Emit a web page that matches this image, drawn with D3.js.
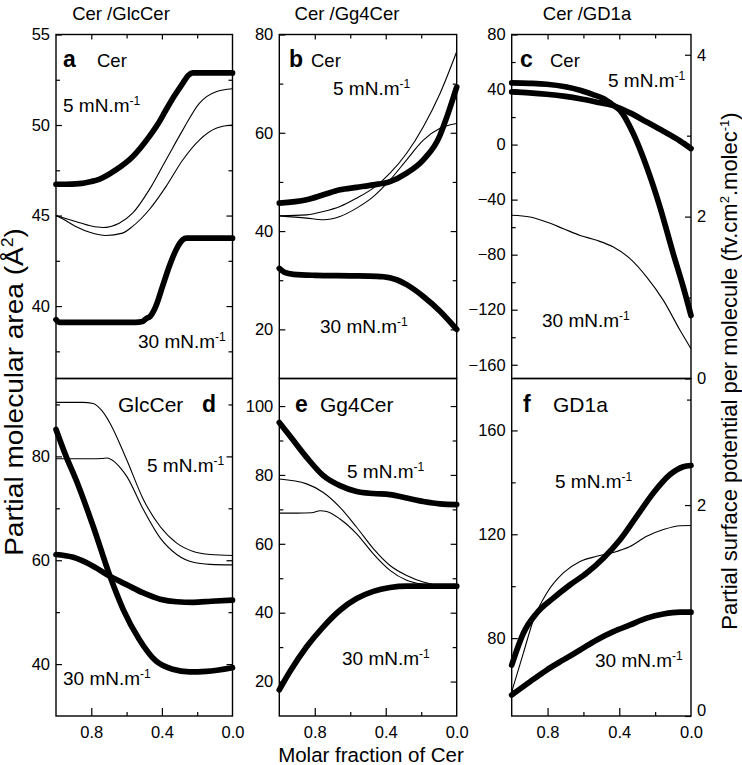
<!DOCTYPE html>
<html><head><meta charset="utf-8">
<script src="https://cdn.jsdelivr.net/npm/d3@7/dist/d3.min.js"></script>
<style>
body{margin:0;background:#fff}
svg{display:block}
text{font-family:"Liberation Sans",Arial,Helvetica,sans-serif;fill:#000}
</style>
</head><body>
<svg id="chart" width="742" height="765"></svg>
<script>
// ---------- DATA (x = molar fraction of Cer, y = value) ----------
const columnTitles = ["Cer /GlcCer", "Cer /Gg4Cer", "Cer /GD1a"];
const xMajorTicks = [0.8, 0.4, 0.0];
const xMinorTicks = [0.6, 0.2];

// panel a : Cer in Cer/GlcCer
const aThick5  = [[1.0,46.73],[0.95,46.73],[0.869,46.76],[0.80,46.88],[0.756,47.0],[0.661,47.52],[0.566,48.25],[0.472,49.36],[0.42,50.1],[0.377,50.83],[0.33,51.6],[0.282,52.3],[0.25,52.75],[0.225,52.88],[0.1,52.88],[0.0,52.88]];
const aThinU   = [[1.0,45.0],[0.95,44.85],[0.888,44.67],[0.80,44.42],[0.737,44.34],[0.642,44.58],[0.566,45.13],[0.472,46.42],[0.377,48.07],[0.282,49.72],[0.188,51.2],[0.093,51.84],[0.0,52.0]];
const aThinL   = [[1.0,45.0],[0.95,44.75],[0.888,44.4],[0.80,44.05],[0.718,43.9],[0.623,44.03],[0.566,44.4],[0.472,45.32],[0.377,46.6],[0.282,48.07],[0.188,49.17],[0.093,49.82],[0.0,50.0]];
const aThick30 = [[1.0,39.25],[0.98,39.1],[0.9,39.1],[0.7,39.1],[0.55,39.1],[0.51,39.15],[0.49,39.3],[0.465,39.45],[0.434,40.0],[0.396,41.1],[0.358,42.2],[0.32,43.1],[0.282,43.66],[0.26,43.75],[0.0,43.75]];
const aYMajor = [40,45,50,55], aYMinor = [37.5,42.5,47.5,52.5];

// panel b : Cer in Cer/Gg4Cer
const bThick5  = [[1.0,45.7],[0.846,46.36],[0.752,47.37],[0.658,48.4],[0.564,48.9],[0.47,49.4],[0.376,50.07],[0.282,51.8],[0.188,54.5],[0.094,59.5],[0.075,61.3],[0.05,63.8],[0.025,66.5],[0.0,69.3]];
const bThin1   = [[1.0,43.1],[0.846,43.3],[0.752,43.98],[0.658,45.0],[0.564,46.7],[0.47,48.73],[0.376,51.78],[0.282,55.84],[0.188,61.24],[0.094,68.0],[0.0,76.5]];
const bThin2   = [[1.0,43.1],[0.846,42.64],[0.752,42.3],[0.658,42.97],[0.564,44.67],[0.47,47.0],[0.376,50.4],[0.282,54.5],[0.188,58.5],[0.094,60.9],[0.0,61.9]];
const bThick30 = [[1.0,32.4],[0.97,31.6],[0.92,31.2],[0.8,31.0],[0.6,30.9],[0.45,30.8],[0.414,30.7],[0.338,30.1],[0.282,29.1],[0.188,26.7],[0.094,23.7],[0.0,20.0]];
const bYMajor = [20,40,60,80], bYMinor = [30,50,70];

// panel c : Cer in Cer/GD1a
const cThickA  = [[1.0,44.8],[0.9,44.5],[0.805,43.85],[0.7,42.0],[0.619,39.5],[0.55,36.5],[0.489,33.45],[0.433,28.6],[0.396,24.95],[0.322,8.0],[0.247,-16.3],[0.173,-45.4],[0.099,-79.3],[0.043,-103.6],[0.0,-124.2]];
const cThickB  = [[1.0,38.3],[0.9,37.6],[0.805,36.6],[0.7,35.0],[0.619,33.3],[0.53,31.0],[0.433,28.3],[0.34,23.0],[0.247,16.4],[0.154,9.7],[0.061,2.6],[0.0,-2.9]];
const cThin    = [[1.0,-51.4],[0.898,-52.6],[0.805,-56.3],[0.712,-61.1],[0.619,-66.0],[0.526,-69.6],[0.433,-74.5],[0.34,-82.9],[0.247,-96.3],[0.154,-113.2],[0.061,-135.0],[0.0,-148.4]];
const cYMajor = [-160,-120,-80,-40,0,40,80], cYMinor = [-140,-100,-60,-20,20,60];
const cRMajor = [0,2,4], cRMinor = [1,3];

// panel d : GlcCer
const dThinU   = [[1.0,90.4],[0.85,90.4],[0.789,90.2],[0.74,88.8],[0.694,86.4],[0.6,79.4],[0.505,71.7],[0.41,66.5],[0.316,63.3],[0.222,61.7],[0.127,61.1],[0.0,60.9]];
const dThinL   = [[1.0,79.55],[0.8,79.55],[0.74,79.6],[0.71,79.7],[0.67,79.0],[0.64,78.0],[0.6,76.2],[0.505,69.75],[0.41,64.3],[0.316,61.1],[0.222,59.6],[0.127,59.2],[0.0,59.1]];
const dThickS  = [[1.0,85.2],[0.945,80.2],[0.883,75.2],[0.789,66.5],[0.694,56.9],[0.619,50.5],[0.528,44.75],[0.434,40.6],[0.339,39.0],[0.244,38.5],[0.149,38.6],[0.0,39.3]];
const dThickF  = [[1.0,61.1],[0.907,60.6],[0.789,58.85],[0.694,56.9],[0.6,55.3],[0.505,53.7],[0.41,52.5],[0.316,52.0],[0.222,51.9],[0.12,52.1],[0.0,52.3]];
const dYMajor = [40,60,80], dYMinor = [50,70,90];

// panel e : Gg4Cer
const eThick5  = [[1.0,95.2],[0.94,91.3],[0.846,85.1],[0.752,79.8],[0.658,76.9],[0.564,75.2],[0.47,74.6],[0.376,74.3],[0.282,73.3],[0.188,72.3],[0.094,71.6],[0.0,71.4]];
const eThinU   = [[1.0,78.8],[0.846,77.4],[0.752,74.9],[0.658,70.6],[0.564,64.8],[0.47,58.6],[0.376,53.7],[0.282,50.8],[0.188,48.9],[0.094,47.9],[0.0,47.7]];
const eThinL   = [[1.0,68.9],[0.9,68.9],[0.818,69.0],[0.77,69.6],[0.733,69.4],[0.658,67.2],[0.564,62.9],[0.47,57.1],[0.376,52.3],[0.282,49.4],[0.188,48.2],[0.094,47.7],[0.0,47.7]];
const eThick30 = [[1.0,17.6],[0.94,22.9],[0.846,30.1],[0.752,35.9],[0.658,40.7],[0.564,44.1],[0.47,46.2],[0.376,47.3],[0.282,47.7],[0.0,47.7]];
const eYMajor = [20,40,60,80,100], eYMinor = [30,50,70,90];

// panel f : GD1a
const fThick5  = [[1.0,69.6],[0.935,81.9],[0.861,89.6],[0.768,95.4],[0.675,100.5],[0.582,105.1],[0.489,110.8],[0.396,117.9],[0.303,126.9],[0.21,135.9],[0.117,143.0],[0.043,146.0],[0.0,146.5]];
const fThin    = [[1.0,59.3],[0.935,74.2],[0.879,87.0],[0.805,97.3],[0.712,105.1],[0.619,109.5],[0.526,111.5],[0.433,113.0],[0.34,115.3],[0.247,119.2],[0.154,121.8],[0.061,123.3],[0.0,123.4]];
const fThick30 = [[1.0,58.1],[0.898,63.2],[0.805,67.7],[0.712,71.6],[0.619,75.4],[0.526,79.3],[0.433,82.5],[0.34,85.1],[0.247,87.7],[0.154,89.3],[0.061,90.0],[0.0,90.0]];
const fYMajor = [80,120,160], fYMinor = [60,100,140];
const fRMajor = [0,2], fRMinor = [1,3];

// ---------- LAYOUT ----------
const svg = d3.select("#chart");
const cols = [[56,232.5],[279.3,456.7],[511.7,691]];
const rows = [[34.5,378.5],[378.5,716]];
const THICK = 5.7, THIN = 1.1;

const panels = [
  {id:"a", c:0, r:0, dom:[36,55],   maj:aYMajor, min:aYMinor, thick:[aThick5,aThick30], thin:[aThinU,aThinL],
   letter:[63,67], name:"Cer", nameX:97, nameFs:18.5, p5:[63,112], p30:[138,348]},
  {id:"b", c:1, r:0, dom:[10,80],   maj:bYMajor, min:bYMinor, thick:[bThick5,bThick30], thin:[bThin1,bThin2],
   letter:[289,67], name:"Cer", nameX:311, nameFs:18.5, p5:[333,95], p30:[320,333]},
  {id:"c", c:2, r:0, dom:[-170,80], maj:cYMajor, min:cYMinor, thick:[cThickA,cThickB], thin:[cThin],
   letter:[520,67], name:"Cer", nameX:550, nameFs:18.5, p5:[608,87], p30:[542,327], rdom:[0,4.25], rmaj:cRMajor, rmin:cRMinor},
  {id:"d", c:0, r:1, dom:[30,95],   maj:dYMajor, min:dYMinor, thick:[dThickS,dThickF], thin:[dThinU,dThinL],
   letter:[202,412], name:"GlcCer", nameX:118, nameFs:21, p5:[147,472], p30:[63,685]},
  {id:"e", c:1, r:1, dom:[10,108],  maj:eYMajor, min:eYMinor, thick:[eThick5,eThick30], thin:[eThinU,eThinL],
   letter:[295,412], name:"Gg4Cer", nameX:320, nameFs:21, p5:[347,478], p30:[342,665]},
  {id:"f", c:2, r:1, dom:[50,180],  maj:fYMajor, min:fYMinor, thick:[fThick5,fThick30], thin:[fThin],
   letter:[523,412], name:"GD1a", nameX:553, nameFs:21, p5:[555,488], p30:[595,667], rdom:[0,3.2], rmaj:fRMajor, rmin:fRMinor}
];

const TICK_FS = "16.5px";
function styleAxis(g, fs){
  g.attr("font-family", null).attr("font-size", null);
  g.select(".domain").remove();
  g.selectAll(".tick line").attr("stroke","#000").attr("stroke-width",1.2);
  g.selectAll(".tick text").style("font-size", fs || TICK_FS).attr("fill","#000");
}

function pressureLabel(x, y, num){
  const t = svg.append("text").attr("x",x).attr("y",y).style("font-size","19px");
  t.append("tspan").text(num + " mN.m");
  t.append("tspan").text("-1").style("font-size","12px").attr("dy",-7.5);
}

panels.forEach(p => {
  const [x0,x1] = cols[p.c], [y0,y1] = rows[p.r];
  const x = d3.scaleLinear().domain([1,0]).range([x0,x1]);
  const y = d3.scaleLinear().domain(p.dom).range([y1,y0]);
  const g = svg.append("g");

  // left axis
  g.append("g").attr("transform",`translate(${x0},0)`)
    .call(d3.axisLeft(y).tickValues(p.min).tickSize(-4).tickFormat("")).call(styleAxis);
  g.append("g").attr("transform",`translate(${x0},0)`)
    .call(d3.axisLeft(y).tickValues(p.maj).tickSize(-6).tickPadding(6).tickFormat(d3.format("d"))).call(styleAxis);

  // right axis
  if (p.rdom){
    const yr = d3.scaleLinear().domain(p.rdom).range([y1,y0]);
    g.append("g").attr("transform",`translate(${x1},0)`)
      .call(d3.axisRight(yr).tickValues(p.rmin).tickSize(-4).tickFormat("")).call(styleAxis);
    const ra = g.append("g").attr("transform",`translate(${x1},0)`)
      .call(d3.axisRight(yr).tickValues(p.rmaj).tickSize(-6).tickPadding(6).tickFormat(d3.format("d"))).call(styleAxis);
    // the bottom "0" of the lower panel sits just above the x tick label "0.0"
    if (p.r === 1) ra.selectAll(".tick text").filter(d=>d===0).attr("dy","-0.05em");
  } else {
    g.append("g").attr("transform",`translate(${x1},0)`)
      .call(d3.axisRight(y).tickValues(p.min).tickSize(-4).tickFormat("")).call(styleAxis);
    g.append("g").attr("transform",`translate(${x1},0)`)
      .call(d3.axisRight(y).tickValues(p.maj.filter(v=>y(v)>y0+2 && y(v)<y1-2)).tickSize(-6).tickFormat("")).call(styleAxis);
  }

  // x axis
  if (p.r === 0){
    g.append("g").attr("transform",`translate(0,${y0})`)
      .call(d3.axisTop(x).tickValues(xMinorTicks).tickSize(-4).tickFormat("")).call(styleAxis);
    g.append("g").attr("transform",`translate(0,${y0})`)
      .call(d3.axisTop(x).tickValues([0.8,0.4]).tickSize(-5).tickFormat("")).call(styleAxis);
  } else {
    g.append("g").attr("transform",`translate(0,${y1})`)
      .call(d3.axisBottom(x).tickValues(xMinorTicks).tickSize(-4).tickFormat("")).call(styleAxis);
    const xa = g.append("g").attr("transform",`translate(0,${y1})`)
      .call(d3.axisBottom(x).tickValues(xMajorTicks).tickSize(-8).tickPadding(10).tickFormat(d3.format(".1f"))).call(styleAxis);
    xa.selectAll(".tick line").filter(d=>d===0).remove();
    xa.selectAll(".tick text").style("font-size","16.5px");
  }

  // frame
  g.append("rect").attr("x",x0).attr("y",y0).attr("width",x1-x0).attr("height",y1-y0)
    .attr("fill","none").attr("stroke","#000").attr("stroke-width",1.4);

  const line = d3.line().x(d=>x(d[0])).y(d=>y(d[1])).curve(d3.curveMonotoneX);
  p.thin.forEach(s => g.append("path").attr("d",line(s)).attr("fill","none")
    .attr("stroke","#000").attr("stroke-width",THIN));
  p.thick.forEach(s => g.append("path").attr("d",line(s)).attr("fill","none")
    .attr("stroke","#000").attr("stroke-width",THICK).attr("stroke-linecap","round").attr("stroke-linejoin","round"));

  // labels
  svg.append("text").attr("x",p.letter[0]).attr("y",p.letter[1]).text(p.id)
    .style("font-size","23px").style("font-weight","bold");
  svg.append("text").attr("x",p.nameX).attr("y",p.letter[1]).text(p.name).style("font-size",p.nameFs+"px");
  pressureLabel(p.p5[0], p.p5[1], "5");
  pressureLabel(p.p30[0], p.p30[1], "30");
});

// column titles
const titleX = [121, 347, 587];
columnTitles.forEach((t,i) => svg.append("text").attr("x",titleX[i]).attr("y",20)
  .attr("text-anchor","middle").style("font-size","18.5px").text(t));

// x axis title
svg.append("text").attr("x",371).attr("y",762).attr("text-anchor","middle")
  .style("font-size","20.5px").text("Molar fraction of Cer");

// left y title
const ly = svg.append("text").attr("transform","translate(23,392) rotate(-90) scale(1.1,1)")
  .attr("text-anchor","middle").style("font-size","25.5px");
ly.append("tspan").text("Partial molecular area (Å");
ly.append("tspan").text("2").style("font-size","16px").attr("dy",-10);
ly.append("tspan").text(")").attr("dy",10);

// right y title
const ry = svg.append("text").attr("transform","translate(736.5,371) rotate(-90)")
  .attr("text-anchor","middle").style("font-size","22px");
ry.append("tspan").text("Partial surface potential per molecule (fv.cm");
ry.append("tspan").text("2").style("font-size","13px").attr("dy",-8);
ry.append("tspan").text(".molec").attr("dy",8);
ry.append("tspan").text("-1").style("font-size","13px").attr("dy",-8);
ry.append("tspan").text(")").attr("dy",8);
</script>
</body></html>
